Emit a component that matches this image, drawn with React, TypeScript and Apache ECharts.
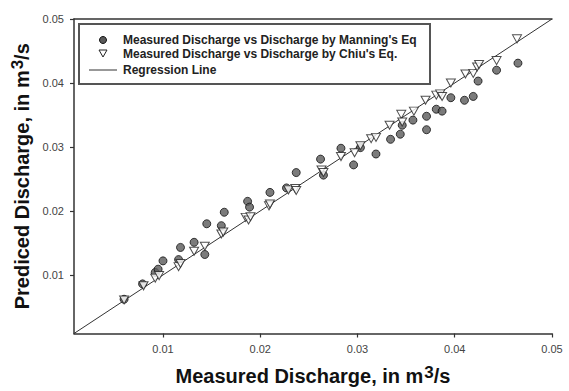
import React, { useEffect, useRef } from "react";
import * as echarts from "echarts";

const tickValues = [0.01, 0.02, 0.03, 0.04, 0.05];
const axisMin = 0.00085;
const axisMax = 0.05;

const manningX = [0.006, 0.0079, 0.0092, 0.0095, 0.01, 0.0116, 0.0118, 0.0132, 0.0143, 0.0145, 0.016, 0.0163, 0.0187, 0.0189, 0.021, 0.0227, 0.0237, 0.0262, 0.0265, 0.0283, 0.0296, 0.0303, 0.0319, 0.0334, 0.0344, 0.0346, 0.0357, 0.0371, 0.0371, 0.0381, 0.0387, 0.0396, 0.041, 0.0419, 0.0424, 0.0443, 0.0465];
const manningY = [0.0062, 0.0086, 0.0104, 0.0109, 0.0122, 0.0124, 0.0143, 0.0151, 0.0132, 0.018, 0.0177, 0.0198, 0.0215, 0.0206, 0.0229, 0.0236, 0.026, 0.0281, 0.0256, 0.0298, 0.0272, 0.0299, 0.0289, 0.0312, 0.032, 0.0334, 0.0342, 0.0348, 0.0327, 0.0359, 0.0356, 0.0377, 0.0373, 0.0379, 0.0403, 0.042, 0.0431];

const chiuX = [0.006, 0.008, 0.0092, 0.0096, 0.0116, 0.0118, 0.0132, 0.0143, 0.016, 0.0162, 0.0185, 0.0188, 0.019, 0.0209, 0.021, 0.0229, 0.0236, 0.0237, 0.0263, 0.0265, 0.0283, 0.0297, 0.0303, 0.0314, 0.0319, 0.0333, 0.0345, 0.0346, 0.0358, 0.037, 0.0381, 0.0385, 0.0387, 0.0396, 0.0411, 0.0419, 0.0423, 0.0425, 0.0443, 0.0464];
const chiuY = [0.0061, 0.0083, 0.0095, 0.0099, 0.0113, 0.0118, 0.0137, 0.0145, 0.0164, 0.0167, 0.019, 0.0186, 0.0191, 0.0208, 0.0211, 0.0233, 0.0235, 0.0232, 0.0264, 0.026, 0.0285, 0.0291, 0.0302, 0.0313, 0.0315, 0.0334, 0.0351, 0.0339, 0.0356, 0.0373, 0.0381, 0.0383, 0.0379, 0.04, 0.0414, 0.0415, 0.0425, 0.0429, 0.0435, 0.0469];

const regressionX = [axisMin, axisMax];
const regressionY = [axisMin, axisMax];

const legendLabels = [
  "Measured Discharge vs Discharge by Manning's Eq",
  "Measured Discharge vs Discharge by Chiu's Eq.",
  "Regression Line",
];

const FONT = "'Liberation Sans', Arial, sans-serif";

export default function App() {
  const ref = useRef<HTMLDivElement>(null);
  useEffect(() => {
    if (!ref.current) return;
    const chart = echarts.init(ref.current, null, { renderer: "svg" });
    const zip = (xs: number[], ys: number[]) => xs.map((x, i) => [x, ys[i]]);
    const supStyle = { fontSize: 17, fontWeight: "bold", color: "#111", fontFamily: FONT, verticalAlign: "top", padding: [0, 0, 8, 1] };
    const axisCommon = {
      type: "value" as const,
      min: axisMin,
      max: axisMax,
      splitLine: { show: false },
      axisLine: { show: true, lineStyle: { color: "#333", width: 1.5 } },
      axisTick: { show: true, inside: false, length: 4, customValues: tickValues, lineStyle: { color: "#333", width: 1.2 } },
      axisLabel: {
        customValues: tickValues,
        formatter: (v: number) => v.toFixed(2),
        color: "#444",
        fontSize: 11,
        fontFamily: FONT,
        margin: 10,
      },
    };
    chart.setOption({
      animation: false,
      backgroundColor: "#fff",
      grid: { left: 74, right: 17, top: 19, bottom: 57 },
      xAxis: [
        {
          ...axisCommon,
          name: "Measured Discharge, in m{sup|3}/s",
          nameLocation: "middle",
          nameGap: 30,
          nameTextStyle: {
            fontSize: 20,
            fontWeight: "bold",
            color: "#111",
            fontFamily: FONT,
            rich: { sup: supStyle },
          },
        },
        {
          type: "value",
          position: "top",
          min: axisMin,
          max: axisMax,
          axisLine: { show: true, lineStyle: { color: "#333", width: 1.5 } },
          axisTick: { show: false },
          axisLabel: { show: false },
          splitLine: { show: false },
        },
      ],
      yAxis: {
        ...axisCommon,
        name: "Prediced Discharge, in m{sup|3}/s",
        nameLocation: "middle",
        nameGap: 36,
        nameRotate: 90,
        nameTextStyle: {
          fontSize: 20,
          fontWeight: "bold",
          color: "#111",
          fontFamily: FONT,
          rich: { sup: supStyle },
        },
      },
      series: [
        {
          type: "line",
          data: zip(regressionX, regressionY),
          showSymbol: false,
          lineStyle: { color: "#333", width: 1 },
          silent: true,
          z: 1,
        },
        {
          type: "scatter",
          data: zip(manningX, manningY),
          symbol: "circle",
          symbolSize: 8,
          itemStyle: { color: "#5a5a5a", borderColor: "#111", borderWidth: 1 },
          z: 2,
        },
        {
          type: "scatter",
          data: zip(chiuX, chiuY),
          symbol: "triangle",
          symbolRotate: 180,
          symbolSize: [9, 8],
          itemStyle: { color: "#fff", borderColor: "#222", borderWidth: 1 },
          z: 3,
        },
      ],
      graphic: [
        {
          type: "rect",
          shape: { x: 79, y: 24, width: 351, height: 60 },
          style: { fill: "#fff", stroke: "#555", lineWidth: 2 },
          z: 10,
        },
        {
          type: "circle",
          shape: { cx: 103, cy: 40, r: 3.5 },
          style: { fill: "#5a5a5a", stroke: "#111", lineWidth: 1 },
          z: 11,
        },
        {
          type: "polygon",
          shape: { points: [[99, 50], [107, 50], [103, 57]] },
          style: { fill: "#fff", stroke: "#222", lineWidth: 1 },
          z: 11,
        },
        {
          type: "line",
          shape: { x1: 89, y1: 70, x2: 117, y2: 70 },
          style: { stroke: "#333", lineWidth: 1 },
          z: 11,
        },
        ...legendLabels.map((t, i) => ({
          type: "text",
          x: 123,
          y: [40, 53.5, 70][i],
          style: {
            text: t,
            fill: "#222",
            font: `bold 12px ${FONT}`,
            verticalAlign: "middle",
          },
          z: 11,
        })),
      ],
    });
    return () => chart.dispose();
  }, []);
  return <div ref={ref} style={{ position: "fixed", left: 0, top: 0, width: 569, height: 391 }} />;
}
